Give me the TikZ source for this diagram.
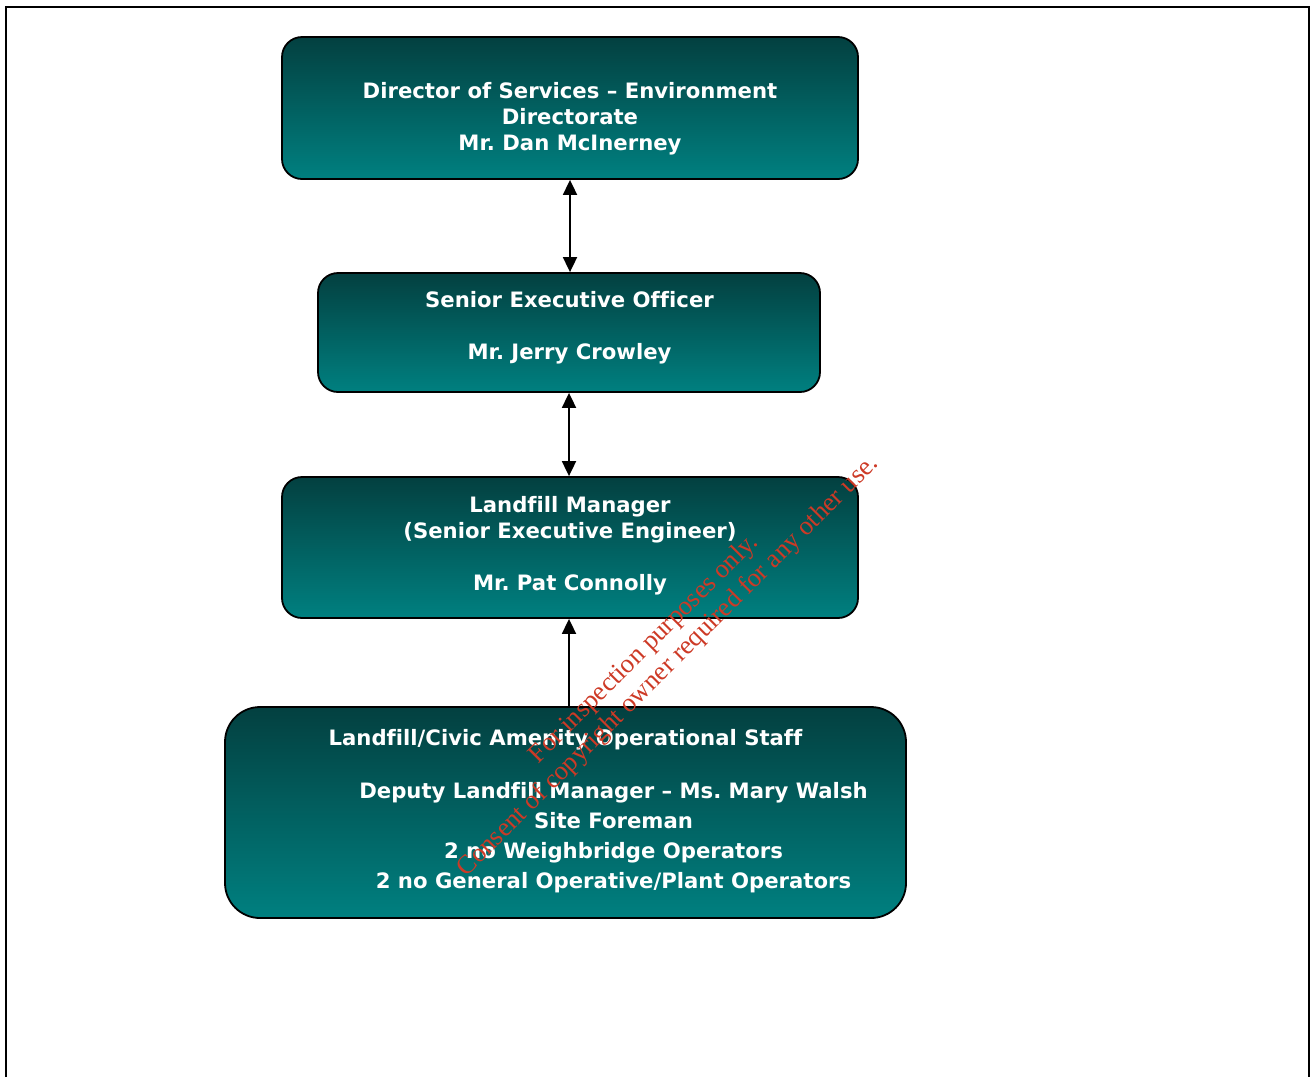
\documentclass[tikz,border=0pt]{standalone}
\usepackage{fontspec}
\setmainfont{DejaVu Sans}[Ligatures=NoCommon]
\newfontfamily\wmfont{Liberation Serif}
\usetikzlibrary{arrows.meta,shadings}
\definecolor{tdark}{RGB}{3,64,64}
\definecolor{tlight}{RGB}{0,128,128}
\definecolor{wmred}{RGB}{205,58,38}
\frenchspacing
\begin{document}
\begin{tikzpicture}[x=1pt,y=-1pt,
  box/.style={draw=black, line width=1.8pt, rounded corners=20pt,
    top color=tdark, bottom color=tlight, inner sep=0pt},
  txt/.style={text=white, font=\bfseries\fontsize{21.2}{24}\selectfont, anchor=base, inner sep=0pt},
  wm/.style={text=wmred, font=\wmfont\fontsize{26.5}{28}\selectfont, anchor=base, rotate=45, inner sep=0pt},
  dblarr/.style={line width=1.8pt, {Triangle[width=14pt,length=15pt]}-{Triangle[width=14pt,length=15pt]}},
  uparr/.style={line width=1.8pt, -{Triangle[width=14pt,length=15pt]}}
]
\useasboundingbox (0,0) rectangle (1311,1077);
% outer frame
\draw[line width=2.2pt] (6,1077) -- (6,7) -- (1309,7) -- (1309,1077);

% boxes
\node[box, minimum width=576pt, minimum height=142pt] (b1) at (570,108) {};
\node[box, minimum width=502pt, minimum height=119pt] (b2) at (569,332.5) {};
\node[box, minimum width=576pt, minimum height=141pt] (b3) at (570,547.5) {};
\node[box, rounded corners=35pt, minimum width=681pt, minimum height=211pt] (b4) at (565.5,812.5) {};

% texts box 1
\node[txt] (t1a) at (570,98) {Director of Services – Environment};
\node[txt] (t1b) at (570,124) {Directorate};
\node[txt] (t1c) at (570,150) {Mr. Dan McInerney};
% box 2
\node[txt] (t2a) at (569.5,307) {Senior Executive Officer};
\node[txt] (t2b) at (569.5,359) {Mr. Jerry Crowley};
% box 3
\node[txt] (t3a) at (570,512) {Landfill Manager};
\node[txt] (t3b) at (570,538) {(Senior Executive Engineer)};
\node[txt] (t3c) at (570,590) {Mr. Pat Connolly};
% box 4
\node[txt] (t4a) at (565.5,745) {Landfill/Civic Amenity Operational Staff};
\node[txt] (t4b) at (613.5,798) {Deputy Landfill Manager – Ms. Mary Walsh};
\node[txt] (t4c) at (613.5,828) {Site Foreman};
\node[txt] (t4d) at (613.5,858) {2 no Weighbridge Operators};
\node[txt] (t4e) at (613.5,888) {2 no General Operative/Plant Operators};

% connectors
\draw[dblarr] (b1.south) -- (b2.north -| b1.south);
\draw[dblarr] (b2.south) -- (b3.north -| b2.south);
\draw[uparr] (b4.north -| b2.south) -- (b3.south -| b2.south);

% watermark
\node[wm] (w1) at (649,654) {For inspection purposes only.};
\node[wm] (w2) at (673,671) {Consent of copyright owner required for any other use.};
\end{tikzpicture}
\end{document}
